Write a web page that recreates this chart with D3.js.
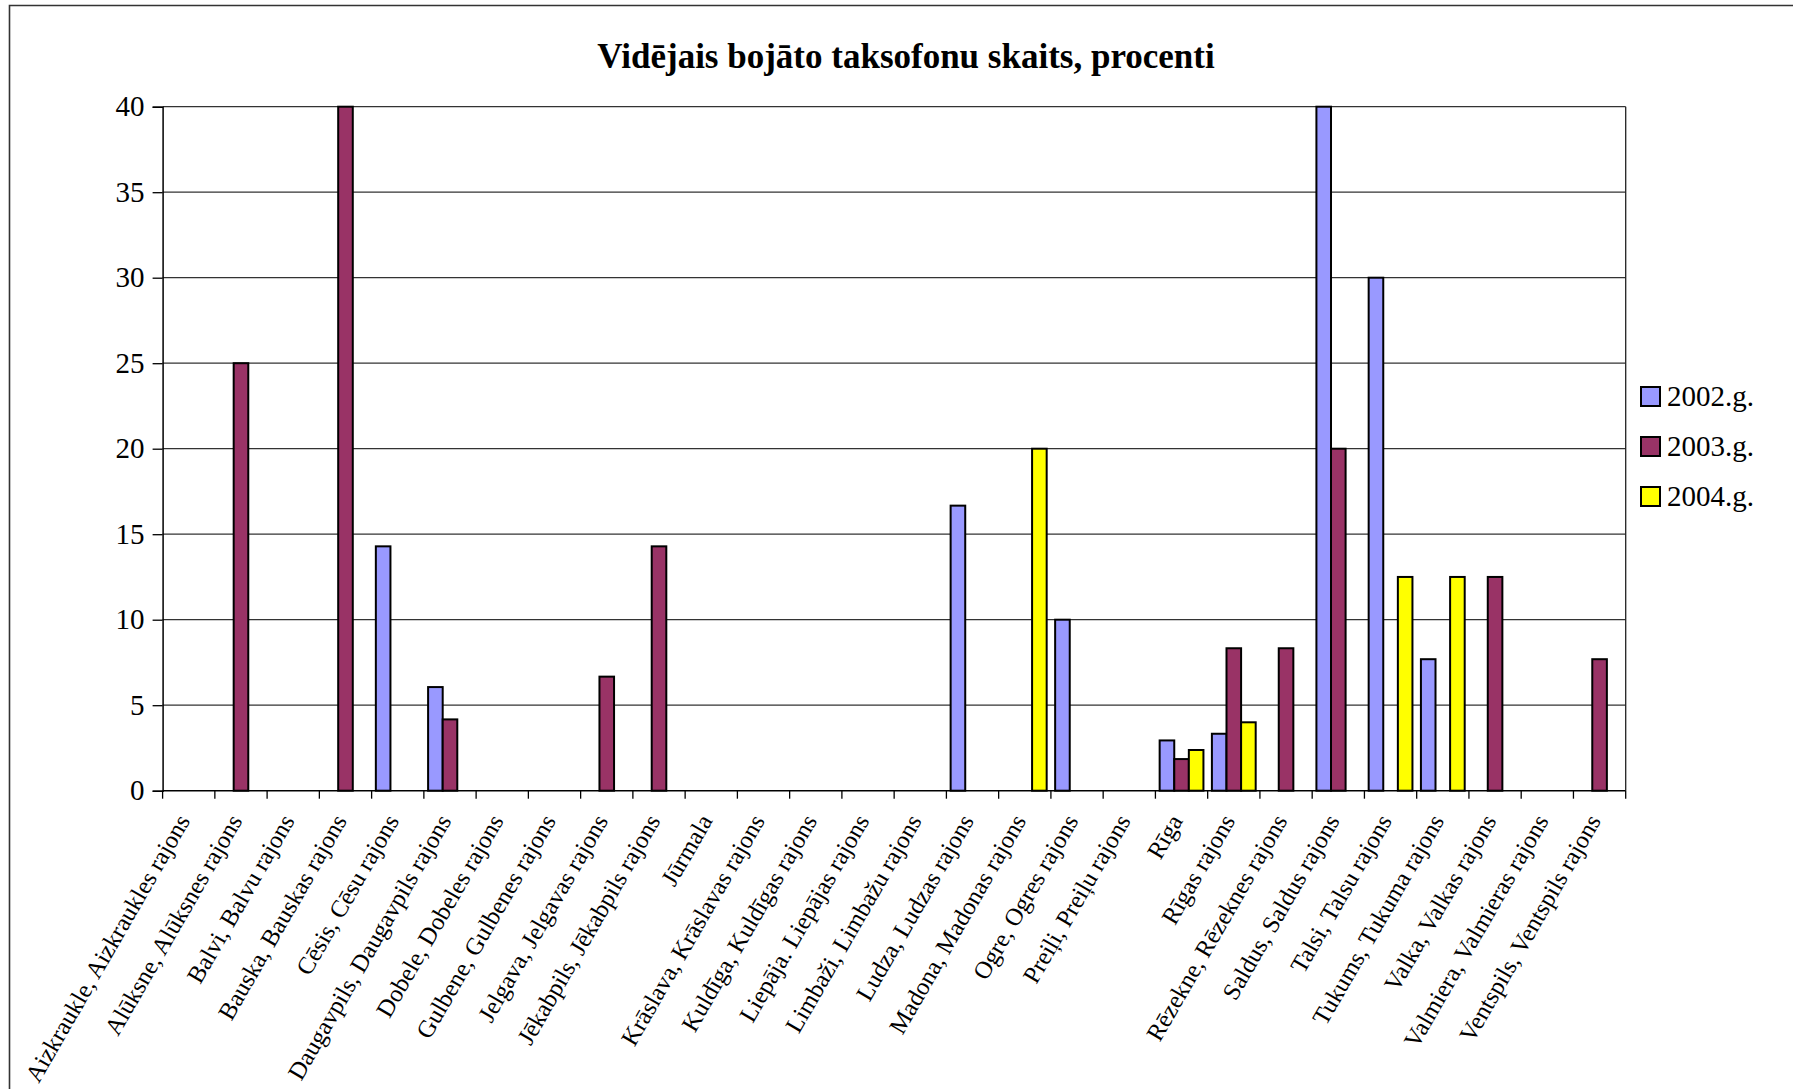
<!DOCTYPE html>
<html>
<head>
<meta charset="utf-8">
<script src="https://cdn.jsdelivr.net/npm/d3@7/dist/d3.min.js"></script>
<style>
  html, body { margin: 0; padding: 0; background: #fff; }
  svg { display: block; }
  svg text { font-family: "Liberation Serif", "Times New Roman", serif !important; fill: #000; }
</style>
</head>
<body>
<svg id="chart" width="1793" height="1089"></svg>
<script>
// Districts (rajoni) of Latvia
const categories = [
  "Aizkraukle, Aizkraukles rajons",
  "Alūksne, Alūksnes rajons",
  "Balvi, Balvu rajons",
  "Bauska, Bauskas rajons",
  "Cēsis, Cēsu rajons",
  "Daugavpils, Daugavpils rajons",
  "Dobele, Dobeles rajons",
  "Gulbene, Gulbenes rajons",
  "Jelgava, Jelgavas rajons",
  "Jēkabpils, Jēkabpils rajons",
  "Jūrmala",
  "Krāslava, Krāslavas rajons",
  "Kuldīga, Kuldīgas rajons",
  "Liepāja. Liepājas rajons",
  "Limbaži, Limbažu rajons",
  "Ludza, Ludzas rajons",
  "Madona, Madonas rajons",
  "Ogre, Ogres rajons",
  "Preiļi, Preiļu rajons",
  "Rīga",
  "Rīgas rajons",
  "Rēzekne, Rēzeknes rajons",
  "Saldus, Saldus rajons",
  "Talsi, Talsu rajons",
  "Tukums, Tukuma rajons",
  "Valka, Valkas rajons",
  "Valmiera, Valmieras rajons",
  "Ventspils, Ventspils rajons"
];

const seriesNames = ["2002.g.", "2003.g.", "2004.g."];
const seriesColors = ["#9999FF", "#993366", "#FFFF00"];

// Average share of broken payphones, percent (null = no value)
const values2002 = [null, null, null, null, 14.29, 6.06, null, null, null, null,
                    null, null, null, null, null, 16.67, null, 10, null, 2.94,
                    3.33, null, 40, 30, 7.69, null, null, null];
const values2003 = [null, 25, null, 40, null, 4.17, null, null, 6.67, 14.29,
                    null, null, null, null, null, null, null, null, null, 1.85,
                    8.33, 8.33, 20, null, null, 12.5, null, 7.69];
const values2004 = [null, null, null, null, null, null, null, null, null, null,
                    null, null, null, null, null, null, 20, null, null, 2.38,
                    4, null, null, 12.5, 12.5, null, null, null];

const yTicks = [0, 5, 10, 15, 20, 25, 30, 35, 40];
const titleText = "Vidējais bojāto taksofonu skaits, procenti";

const allSeries = [values2002, values2003, values2004];

const svg = d3.select("#chart");
const plot = { left: 162.6, right: 1625.7, top: 106.7, bottom: 790.7 };

// Outer frame of the chart area
svg.append("path")
  .attr("d", `M9.5,1095 L9.5,5.5 L1793,5.5`)
  .attr("fill", "none")
  .attr("stroke", "#333")
  .attr("stroke-width", 1.6);

// Title
svg.append("text")
  .attr("x", 906)
  .attr("y", 68)
  .attr("text-anchor", "middle")
  .attr("font-weight", "bold")
  .attr("font-size", 35)
  .text(titleText);

const x0 = d3.scaleBand()
  .domain(categories)
  .range([plot.left, plot.right])
  .padding(0);

const x1 = d3.scaleBand()
  .domain(seriesNames)
  .range([0, x0.bandwidth()])
  .paddingInner(0)
  .paddingOuter(0.29);

const y = d3.scaleLinear()
  .domain([0, 40])
  .range([plot.bottom, plot.top]);

// Horizontal gridlines
svg.append("g")
  .selectAll("line")
  .data(yTicks.filter(d => d > 0))
  .join("line")
  .attr("x1", plot.left)
  .attr("x2", plot.right)
  .attr("y1", d => y(d))
  .attr("y2", d => y(d))
  .attr("stroke", "#333")
  .attr("stroke-width", 1.3);

// Right edge of plot area
svg.append("line")
  .attr("x1", plot.right).attr("x2", plot.right)
  .attr("y1", plot.top).attr("y2", plot.bottom)
  .attr("stroke", "#222").attr("stroke-width", 1.3);

// Bars
const barData = [];
categories.forEach((c, i) => {
  seriesNames.forEach((s, k) => {
    const v = allSeries[k][i];
    if (v != null) barData.push({ cat: c, series: s, value: v, color: seriesColors[k] });
  });
});

svg.append("g")
  .selectAll("rect")
  .data(barData)
  .join("rect")
  .attr("x", d => x0(d.cat) + x1(d.series))
  .attr("y", d => y(d.value))
  .attr("width", x1.bandwidth())
  .attr("height", d => y(0) - y(d.value))
  .attr("fill", d => d.color)
  .attr("stroke", "#000")
  .attr("stroke-width", 2);

// Y axis
const yAxis = svg.append("g")
  .attr("transform", `translate(${plot.left},0)`)
  .call(d3.axisLeft(y).tickValues(yTicks).tickSize(10).tickPadding(8).tickFormat(d3.format("d")));
yAxis.attr("font-family", null).attr("font-size", null);
yAxis.select(".domain").attr("stroke", "#000").attr("stroke-width", 1.5);
yAxis.selectAll(".tick line").attr("stroke", "#000").attr("stroke-width", 1.3);
yAxis.selectAll(".tick text")
  .style("font-size", "29px")
  .attr("fill", "#000");

// X axis: ticks at band boundaries
const xAxisG = svg.append("g");
xAxisG.append("line")
  .attr("x1", plot.left).attr("x2", plot.right)
  .attr("y1", plot.bottom).attr("y2", plot.bottom)
  .attr("stroke", "#000").attr("stroke-width", 1.6);

const boundaries = categories.map(c => x0(c)).concat([x0.range()[1]]);
xAxisG.selectAll("line.tick")
  .data(boundaries)
  .join("line")
  .attr("class", "tick")
  .attr("x1", d => d).attr("x2", d => d)
  .attr("y1", plot.bottom).attr("y2", plot.bottom + 8)
  .attr("stroke", "#000").attr("stroke-width", 1.3);

// Rotated category labels
xAxisG.selectAll("text")
  .data(categories)
  .join("text")
  .attr("transform", d => `translate(${x0(d) + x0.bandwidth() / 2 + 2},${plot.bottom + 30}) rotate(-60)`)
  .attr("text-anchor", "end")
  .style("font-size", "24.5px")
  .text(d => d);

// Legend
const legend = svg.append("g");
seriesNames.forEach((s, k) => {
  const ly = 387 + k * 50;
  legend.append("rect")
    .attr("x", 1641).attr("y", ly)
    .attr("width", 19).attr("height", 19)
    .attr("fill", seriesColors[k])
    .attr("stroke", "#000").attr("stroke-width", 2);
  legend.append("text")
    .attr("x", 1667).attr("y", ly + 18.5)
    .style("font-size", "29px")
    .text(s);
});
</script>
</body>
</html>
